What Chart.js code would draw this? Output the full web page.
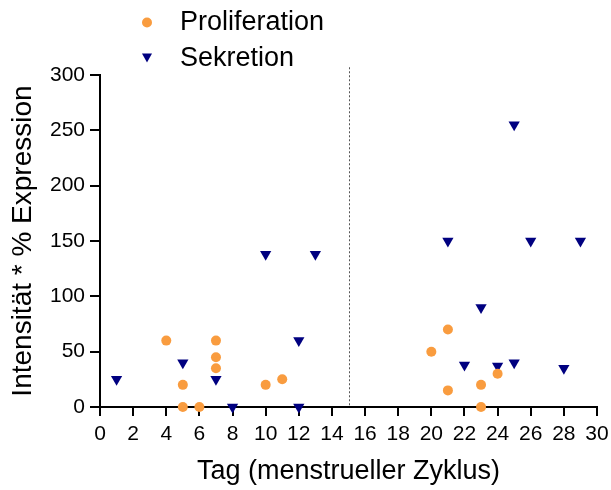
<!DOCTYPE html>
<html>
<head>
<meta charset="utf-8">
<script src="https://cdn.jsdelivr.net/npm/chart.js@4"></script>
<style>
html,body{margin:0;padding:0;background:#fff;}
#wrap{width:611px;height:490px;}
</style>
</head>
<body>
<div id="wrap"><canvas id="c" width="611" height="490"></canvas></div>
<script>
const xTickStep=2;
const yTickStep=50;
const cycleSplit=15;

// Proliferation (orange circles)
const proDays=[4,5,5,6,7,7,7,10,11,20,21,21,23,23,24];
const proValues=[60,20,0,0,60,45,35,20,25,50,70,15,20,0,30];

// Sekretion (navy triangles)
const sekDays=[1,5,7,8,10,12,12,13,21,22,23,24,25,25,26,28,29];
const sekValues=[25,40,25,0,138,60,0,138,150,38,90,37,40,255,150,35,150];

const FONT='"Liberation Sans", Arial, sans-serif';

function toPoints(xs,ys){
return xs.map((x,i)=>({x:x,y:ys[i]}));
}

const splitLine={
id:'splitLine',
beforeDatasetsDraw(chart){
const ctx=chart.ctx;
const xs=chart.scales.x;
const ys=chart.scales.y;
const px=Math.round(xs.getPixelForValue(cycleSplit))+0.5;
ctx.save();
ctx.strokeStyle='#555';
ctx.lineWidth=1;
ctx.setLineDash([2,2]);
ctx.beginPath();
ctx.moveTo(px,ys.getPixelForValue(307));
ctx.lineTo(px,ys.getPixelForValue(0));
ctx.stroke();
ctx.restore();
}
};

const sideLegend={
id:'sideLegend',
afterDraw(chart){
const ctx=chart.ctx;
const items=chart.data.datasets;
ctx.save();
ctx.font='27px '+FONT;
ctx.textBaseline='middle';
items.forEach((ds,i)=>{
const cx=147;
const cy=22+i*35.5;
ctx.fillStyle=ds.backgroundColor;
ctx.beginPath();
if(ds.pointStyle==='circle'){
ctx.arc(cx,cy+0.5,5,0,Math.PI*2);
}else{
ctx.moveTo(cx-5,cy-4);
ctx.lineTo(cx+5,cy-4);
ctx.lineTo(cx,cy+5);
ctx.closePath();
}
ctx.fill();
ctx.fillStyle='#000';
ctx.fillText(ds.label,180,cy+1);
});
ctx.restore();
}
};

new Chart(document.getElementById('c'),{
type:'scatter',
data:{
datasets:[
{
label:'Proliferation',
data:toPoints(proDays,proValues),
pointStyle:'circle',
pointRadius:5,
pointHoverRadius:5,
backgroundColor:'#f99c3f',
borderColor:'#f99c3f',
borderWidth:0,
clip:false
},
{
label:'Sekretion',
data:toPoints(sekDays,sekValues),
pointStyle:'triangle',
rotation:180,
pointRadius:6.5,
pointHoverRadius:6.5,
backgroundColor:'#000080',
borderColor:'#000080',
borderWidth:0,
clip:false
}
]
},
options:{
responsive:false,
animation:false,
layout:{padding:{top:75,right:14,left:0,bottom:0}},
plugins:{legend:{display:false},tooltip:{enabled:false}},
scales:{
x:{
type:'linear',
min:0,
max:30,
afterFit(scale){scale.height=83;scale.paddingRight=0;scale.paddingLeft=0;},
ticks:{stepSize:xTickStep,color:'#000',font:{size:21,family:FONT},padding:6,maxRotation:0,autoSkip:false},
grid:{display:true,drawOnChartArea:false,drawTicks:true,tickLength:9,color:'#000',lineWidth:2},
border:{color:'#000',width:2},
title:{display:true,text:'Tag (menstrueller Zyklus)',color:'#000',font:{size:27,family:FONT},padding:{top:4,bottom:2}}
},
y:{
type:'linear',
min:0,
max:300,
afterFit(scale){scale.width=100;},
ticks:{stepSize:yTickStep,color:'#000',font:{size:21,family:FONT},padding:5},
grid:{display:true,drawOnChartArea:false,drawTicks:true,tickLength:10,color:'#000',lineWidth:2},
border:{color:'#000',width:2},
title:{display:true,text:'Intensität * % Expression',color:'#000',font:{size:28,family:FONT},padding:{top:6,bottom:4}}
}
}
},
plugins:[splitLine,sideLegend]
});
</script>
</body>
</html>
